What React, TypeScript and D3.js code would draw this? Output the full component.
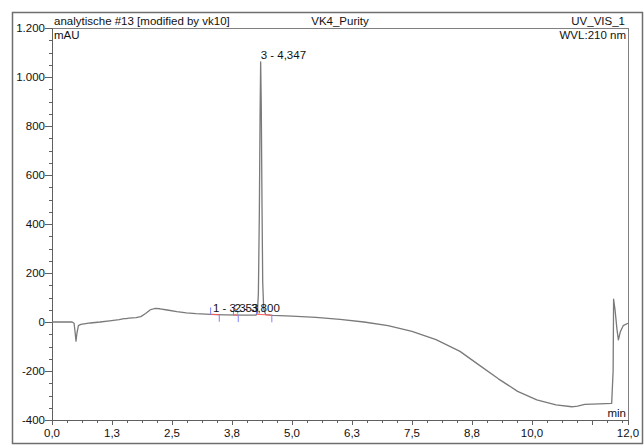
import React from "react";
import * as d3 from "d3";

const times = [0, 0.42, 0.46, 0.48, 0.5, 0.52, 0.55, 0.6, 0.8, 1.0, 1.2, 1.4, 1.5, 1.55, 1.6, 1.75, 1.85, 1.95, 2.05, 2.15, 2.25, 2.4, 2.6, 2.8, 3.0, 3.3, 3.6, 4.0, 4.25, 4.28, 4.3, 4.32, 4.335, 4.347, 4.36, 4.375, 4.39, 4.41, 4.45, 4.6, 5.0, 5.5, 6.0, 6.5, 7.0, 7.5, 8.0, 8.5, 8.9, 9.3, 9.7, 10.1, 10.5, 10.83, 10.95, 11.1, 11.4, 11.66, 11.69, 11.7, 11.73, 11.77, 11.8, 11.84, 11.9, 12.0];
const signal = [0, 0, -5, -40, -78, -45, -15, -10, -4, 0, 5, 10, 14, 14, 16, 18, 22, 35, 50, 56, 54, 49, 42, 37, 34, 31, 29, 28, 28, 40, 120, 450, 850, 1062, 880, 480, 160, 55, 30, 27, 24, 19, 11, 0, -15, -38, -72, -120, -176, -232, -283, -318, -338, -346, -343, -336, -334, -332, -200, 93, 50, -30, -73, -40, -15, -5];

const yTicks = [1200, 1000, 800, 600, 400, 200, 0, -200, -400];
const yTickLabels = ["1.200", "1.000", "800", "600", "400", "200", "0", "-200", "-400"];
const xTicks = [0, 1.25, 2.5, 3.75, 5, 6.25, 7.5, 8.75, 10, 11.25, 12];
const xTickLabels = ["0,0", "1,3", "2,5", "3,8", "5,0", "6,3", "7,5", "8,8", "10,0", "", "12,0"];

const peakTimes = [3.353, 3.8, 4.347];
const peakLabels = ["1 - 3,353", "2 - 3,800", "3 - 4,347"];
const peakApex = [30, 29, 1062];
const markerTimes = [3.305, 3.485, 3.78, 3.88, 4.26, 4.58];
const markerDir = [-1, 1, -1, 1, -1, 1];

const titleLeft = "analytische #13 [modified by vk10]";
const titleMid = "VK4_Purity";
const titleRight = "UV_VIS_1";
const yUnit = "mAU";
const wvl = "WVL:210 nm";
const xUnit = "min";

const FONT = "'Liberation Sans Narrow', 'Arial Narrow', 'Liberation Sans', Arial, sans-serif";

export default function App() {
  const W = 644, H = 448;
  const left = 52, right = 628, top = 28, bottom = 420;
  const x = d3.scaleLinear().domain([0, 12]).range([left, right]);
  const y = d3.scaleLinear().domain([-400, 1200]).range([bottom, top]);
  const pts: [number, number][] = times.map((t, i) => [t, signal[i]]);
  const line = d3.line<[number, number]>().x(d => x(d[0])).y(d => y(d[1]));
  const interp = (t: number) => {
    const i = d3.bisectLeft(times, t);
    if (i <= 0) return signal[0];
    const t0 = times[i - 1], t1 = times[i];
    const f = (t - t0) / (t1 - t0);
    return signal[i - 1] + f * (signal[i] - signal[i - 1]);
  };
  const yMinor = d3.range(-400, 1201, 50);
  const xMinor = d3.range(0, 12.0001, 0.3125);
  const segs = [[0, 1], [2, 3], [4, 5]];
  return (
    <svg width={W} height={H} style={{ display: "block", position: "absolute", left: 0, top: 0 }} fontFamily={FONT}>
      <rect x={0} y={0} width={W} height={H} fill="#fff" />
      <rect x={12.5} y={12.5} width={630} height={431} fill="none" stroke="#6e6e6e" strokeWidth={1.5} />
      {/* plot box */}
      <line x1={left} x2={right} y1={top + 0.5} y2={top + 0.5} stroke="#808080" />
      <line x1={right + 0.5} x2={right + 0.5} y1={top} y2={bottom} stroke="#808080" />
      <line x1={left + 0.5} x2={left + 0.5} y1={top} y2={bottom} stroke="#606060" />
      <line x1={left} x2={right} y1={bottom + 0.5} y2={bottom + 0.5} stroke="#606060" />
      {/* y minor ticks */}
      {yMinor.map(v => (
        <line key={"ym" + v} x1={49} x2={left} y1={Math.round(y(v)) + 0.5} y2={Math.round(y(v)) + 0.5} stroke="#606060" />
      ))}
      {yTicks.map((v, i) => (
        <g key={"yt" + v}>
          <line x1={45} x2={left} y1={Math.round(y(v)) + 0.5} y2={Math.round(y(v)) + 0.5} stroke="#606060" />
          <text x={45} y={y(v) + 4} textAnchor="end" fontSize={11.5} fill="#111">{yTickLabels[i]}</text>
        </g>
      ))}
      {xMinor.map(v => (
        <line key={"xm" + v} x1={Math.round(x(v)) + 0.5} x2={Math.round(x(v)) + 0.5} y1={bottom} y2={bottom + 3} stroke="#606060" />
      ))}
      {xTicks.map((v, i) => (
        <g key={"xt" + v}>
          <line x1={Math.round(x(v)) + 0.5} x2={Math.round(x(v)) + 0.5} y1={bottom} y2={bottom + 5} stroke="#606060" />
          <text x={x(v)} y={437} textAnchor="middle" fontSize={11.5} fill="#111">{xTickLabels[i]}</text>
        </g>
      ))}
      {/* header */}
      <text x={54} y={25} fontSize={11.5} fill="#111">{titleLeft}</text>
      <text x={340} y={25} fontSize={11.5} textAnchor="middle" fill="#111">{titleMid}</text>
      <text x={625} y={25} fontSize={11.5} textAnchor="end" fill="#111">{titleRight}</text>
      <text x={54} y={39} fontSize={11.5} fill="#111">{yUnit}</text>
      <text x={626} y={39} fontSize={11.5} textAnchor="end" fill="#111">{wvl}</text>
      <text x={626} y={417} fontSize={11.5} textAnchor="end" fill="#111">{xUnit}</text>
      {/* curve */}
      <path d={line(pts) || ""} fill="none" stroke="#7a7a7a" strokeWidth={1.3} strokeLinejoin="round" />
      {/* baselines */}
      {segs.map(([a, b], i) => (
        <line key={"bl" + i} x1={x(markerTimes[a])} x2={x(markerTimes[b])} y1={y(interp(markerTimes[a]))} y2={y(interp(markerTimes[b]))} stroke="#ff5a5a" strokeWidth={1} />
      ))}
      {markerTimes.map((t, i) => (
        <line key={"mk" + i} x1={x(t)} x2={x(t)} y1={y(interp(t))} y2={y(interp(t)) + markerDir[i] * 7} stroke="#7f7fff" strokeWidth={1} />
      ))}
      {peakTimes.map((t, i) => (
        <text key={"pl" + i} x={x(t)} y={y(peakApex[i]) - 3} fontSize={11.5} fill="#111">{peakLabels[i]}</text>
      ))}
    </svg>
  );
}
